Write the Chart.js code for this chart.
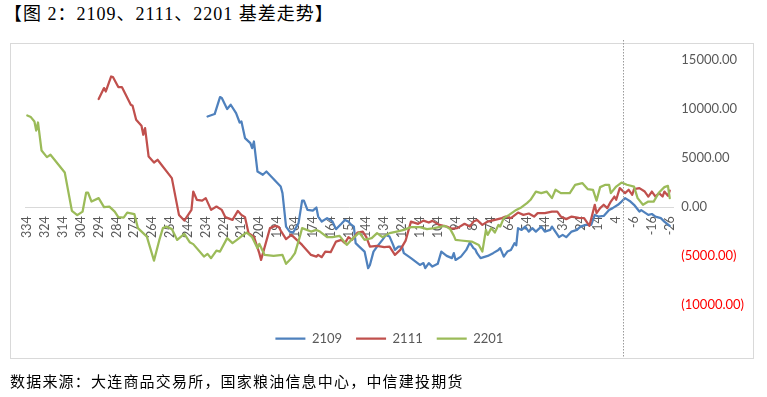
<!DOCTYPE html>
<html><head><meta charset="utf-8">
<script src="https://cdn.jsdelivr.net/npm/chart.js@4/dist/chart.umd.min.js"></script>
<style>
html,body{margin:0;padding:0;background:#fff;width:767px;height:397px;overflow:hidden;}
#title{position:absolute;left:4px;top:4px;font-size:18px;letter-spacing:1px;font-family:"Liberation Serif","Noto Sans CJK SC",serif;color:#000;white-space:nowrap;line-height:20px;}
#frame{position:absolute;left:10px;top:43px;width:744px;height:316px;border:1px solid #d9d9d9;box-sizing:border-box;}
#wrap{position:absolute;left:0;top:0;width:767px;height:397px;}
#src{position:absolute;left:10px;top:371px;font-size:15px;font-family:"Noto Sans CJK SC",sans-serif;letter-spacing:1.2px;color:#000;white-space:nowrap;line-height:20px;}
</style></head>
<body>
<div id="title">【图 2：2109、2111、2201 基差走势】</div>
<div id="frame"></div>
<div id="wrap"><canvas id="c" width="767" height="397"></canvas></div>
<div id="src">数据来源：大连商品交易所，国家粮油信息中心，中信建投期货</div>
<script>
// x-axis tick labels (days to delivery)
const dayTicks = [334,324,314,304,294,284,274,264,254,244,234,224,214,204,194,184,174,164,154,144,134,124,114,104,94,84,74,64,54,44,34,24,14,4,-6,-16,-26];
const yTicks = [15000,10000,5000,0,-5000,-10000];
const markerDay = 0;

const days2109 = [233,229,226,225,222,220,217,215,214,212,209,208,207,205,202,200,192,191,189,187,185,182,180,179,177,174,172,171,169,166,163,161,158,156,154,153,151,150,148,145,143,142,140,138,135,133,131,129,128,126,124,123,119,114,112,111,109,107,104,102,99,96,95,94,91,88,86,84,83,82,80,76,73,70,69,67,65,63,61,60,59,57,55,53,51,49,46,44,41,40,36,34,32,29,26,24,21,18,16,14,11,8,6,3,1,-1,-4,-6,-9,-10,-14,-16,-18,-21,-23,-26];
const vals2109 = [9240,9490,11220,11120,10000,10440,9590,8630,8730,7040,6530,6020,6690,3630,3300,3630,2100,1430,-1980,-2490,-2590,-1630,670,670,-280,-350,-40,-960,-1470,-1120,-1470,-2240,-1700,-1300,-1470,-1700,-1980,-3670,-4020,-4530,-6220,-5900,-4530,-4020,-3340,-2830,-3000,-3850,-4360,-4020,-4020,-4690,-5200,-5890,-5700,-6220,-5710,-6060,-5780,-4530,-4970,-5200,-4690,-5380,-5040,-4360,-3610,-4180,-4300,-4690,-5200,-4970,-4690,-4360,-4180,-5040,-4530,-4360,-3670,-3900,-2140,-2320,-1980,-2490,-2140,-2490,-1980,-2490,-2320,-1980,-3060,-2830,-3060,-2490,-2320,-1980,-1810,-1810,-790,-960,-900,-280,-100,240,570,920,570,240,-450,-300,-790,-700,-960,-1120,-1470,-1910];

const days2111 = [294,291,290,287,286,283,281,276,275,273,270,269,268,266,263,261,253,249,246,242,241,239,236,234,231,228,225,223,219,216,214,212,210,207,204,203,198,195,193,192,189,186,180,175,172,171,169,167,164,161,158,156,154,152,149,146,144,142,138,134,131,128,125,122,119,115,112,109,107,103,99,96,93,89,86,84,82,79,76,72,68,66,63,59,56,53,50,48,44,40,37,35,32,29,25,22,19,16,15,13,11,9,7,5,4,2,-1,-3,-5,-6,-9,-12,-14,-16,-18,-20,-22,-23,-25,-26];
const vals2111 = [11020,12140,11790,13320,13260,12240,12240,10440,10330,8910,8290,7380,8060,5160,4550,4830,2960,-790,-1370,-280,1590,750,670,920,-280,60,-280,-1020,-1300,-380,-790,-1020,-2650,-3000,-4690,-5380,-2140,-1910,-2040,-2390,-3250,-2830,-3850,-4870,-5040,-4870,-5100,-4530,-4590,-3510,-3340,-3670,-3060,-3340,-2590,-2490,-3060,-4020,-3950,-4080,-4020,-4870,-4360,-3410,-1470,-1700,-1370,-1570,-1400,-1810,-1980,-2200,-2140,-1700,-1980,-1470,-1300,-1810,-1470,-1300,-1120,-960,-1120,-550,-790,-650,-960,-610,-610,-450,-450,-960,-1220,-960,-1100,-1120,-1910,240,-610,-100,240,-100,570,1080,750,1940,1430,1770,1260,1840,1940,1590,1080,1590,1080,1430,1080,1590,1150,1690];

const days2201 = [334,332,330,329,328,326,323,321,313,309,306,303,301,300,298,294,291,288,285,283,280,278,274,272,267,263,260,258,256,253,250,246,243,241,235,233,231,228,226,222,219,216,213,211,208,205,204,201,196,191,189,186,184,181,180,175,172,170,166,163,159,155,152,148,145,141,138,135,131,127,123,119,114,110,106,100,97,95,94,91,85,81,79,77,76,74,72,70,69,67,64,60,57,54,52,49,46,43,40,38,35,30,27,23,20,17,15,13,10,8,7,4,1,-2,-6,-8,-11,-14,-17,-20,-23,-25,-26];
const vals2201 = [9340,9180,8730,7810,8630,5770,5100,5340,3530,-380,-820,-450,1490,1490,570,920,0,60,-450,-1020,-1060,-550,-710,-2140,-3000,-5450,-3340,-2140,-1980,-2240,-3340,-2720,-3570,-3770,-5040,-4760,-5200,-4430,-4530,-3160,-3670,-3260,-2830,-2590,-3060,-4180,-3740,-4870,-4970,-4870,-5780,-5200,-4690,-2830,-2140,-2490,-2320,-2490,-3060,-3060,-2930,-3850,-3260,-2590,-3340,-3160,-2650,-3060,-2650,-2490,-2320,-2040,-2040,-2240,-2140,-1910,-2240,-2900,-3340,-3400,-3510,-3850,-4530,-2320,-2830,-2140,-2590,-1810,-1980,-1120,-790,-280,0,410,750,1590,1430,1590,920,1770,1430,1430,2280,2450,1840,1770,670,2040,2280,2280,1430,2100,2510,2280,2100,920,240,570,570,1490,2040,2170,920];

const pts = (d, v) => d.map((x, i) => ({x: x, y: v[i]}));

const font = {family: 'Lato, "Liberation Sans", sans-serif', size: 13};

const markerLine = {
  id: 'markerLine',
  afterDatasetsDraw(chart) {
    const x = Math.round(chart.scales.x.getPixelForValue(markerDay)) + 0.5;
    const ctx = chart.ctx;
    ctx.save();
    ctx.strokeStyle = '#9a9a9a';
    ctx.lineWidth = 1;
    ctx.setLineDash([1.5, 1.5]);
    ctx.beginPath();
    ctx.moveTo(x, 40);
    ctx.lineTo(x, 358);
    ctx.stroke();
    ctx.restore();
  }
};

function ds(label, data, color, order) {
  return {label: label, data: data, borderColor: color, backgroundColor: color,
    pointBorderColor: color, pointBackgroundColor: color, pointBorderWidth: 2.25, order: order};
}

new Chart(document.getElementById('c'), {
  type: 'line',
  data: {
    datasets: [
      ds('2109', pts(days2109, vals2109), '#4F81BD', 2),
      ds('2111', pts(days2111, vals2111), '#C0504D', 1),
      ds('2201', pts(days2201, vals2201), '#9BBB59', 0)
    ]
  },
  options: {
    responsive: false,
    animation: false,
    devicePixelRatio: 1,
    elements: {
      line: {borderWidth: 2.25, tension: 0, fill: false, borderJoinStyle: 'round', borderCapStyle: 'round'},
      point: {radius: 0, hoverRadius: 0}
    },
    layout: {padding: {left: 25.5, top: 60, right: 13.7, bottom: 42}},
    plugins: {
      tooltip: {enabled: false},
      legend: {
        position: 'bottom',
        labels: {
          usePointStyle: true,
          pointStyle: 'line',
          pointStyleWidth: 30,
          boxHeight: 13,
          padding: 14,
          color: '#595959',
          font: font,
          sort: (a, b) => a.datasetIndex - b.datasetIndex
        }
      }
    },
    scales: {
      x: {
        type: 'linear',
        reverse: true,
        min: -28,
        max: 335,
        position: {y: 0},
        afterBuildTicks: s => { s.ticks = dayTicks.map(v => ({value: v})); },
        grid: {display: false, drawTicks: false},
        border: {display: true, color: '#d9d9d9', width: 1},
        ticks: {
          autoSkip: false,
          minRotation: 90,
          maxRotation: 90,
          padding: 9,
          color: '#595959',
          font: {family: font.family, size: 12.5},
          callback: v => String(v)
        }
      },
      y: {
        position: 'right',
        min: -11300,
        max: 15000,
        afterBuildTicks: s => { s.ticks = yTicks.map(v => ({value: v})); },
        afterFit: s => { s.width = 80; },
        grid: {display: false, drawTicks: false},
        border: {display: false},
        ticks: {
          padding: 8,
          font: font,
          color: c => (c.tick && c.tick.value < 0) ? '#FF0000' : '#595959',
          callback: v => v < 0 ? '(' + Math.abs(v).toFixed(2) + ')' : v.toFixed(2)
        }
      }
    }
  },
  plugins: [markerLine]
});
</script>
</body></html>
